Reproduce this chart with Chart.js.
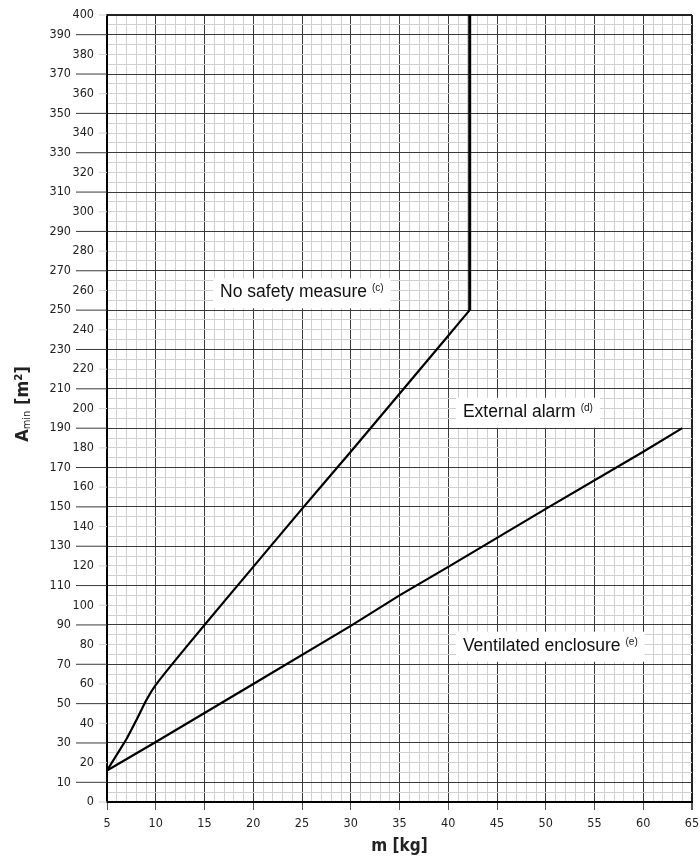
<!DOCTYPE html>
<html>
<head>
<meta charset="utf-8">
<script src="https://cdn.jsdelivr.net/npm/chart.js@4.4.1/dist/chart.umd.min.js"></script>
<style>
  body { margin: 0; background: #fff; }
  canvas { display: block; }
</style>
</head>
<body>
<canvas id="areaChart" width="700" height="858"></canvas>
<script>
// Values
const noSafetyMass = [5, 6, 7, 8, 9, 10, 12, 15, 20, 25, 30, 35, 40, 42.2];
const noSafetyArea = [16, 24, 32, 41.5, 51.5, 59.5, 72, 90, 119.5, 149, 178, 207.5, 237, 250];

const limitMass = [42.2, 42.2];
const limitArea = [250, 400];

const ventMass = [5, 10, 20, 30, 35, 40, 50, 60, 64];
const ventArea = [16, 30.5, 60, 89.5, 105, 119.5, 149, 178, 190];

const xTicks = [5, 10, 15, 20, 25, 30, 35, 40, 45, 50, 55, 60, 65];
const yTicks = [0, 10, 20, 30, 40, 50, 60, 70, 80, 90, 100, 110, 120, 130, 140, 150, 160, 170, 180, 190,
                200, 210, 220, 230, 240, 250, 260, 270, 280, 290, 300, 310, 320, 330, 340, 350, 360, 370, 380, 390, 400];

const regionNames = ['No safety measure', 'External alarm', 'Ventilated enclosure'];
const regionNotes = ['(c)', '(d)', '(e)'];

// where each region name sits, in data units (left edge / baseline)
const notePlaces = [
    { x: 16.6, y: 256.5 },
    { x: 41.5, y: 195.8 },
    { x: 41.5, y: 76.9 }
];

const tickFont = "'DejaVu Sans Condensed', 'DejaVu Sans', sans-serif";
const DARK = '#3a3a3a';
const LIGHT = '#d0d0d0';

function toPoints(xs, ys) {
    return xs.map((x, i) => ({ x: x, y: ys[i] }));
}

// y tick labels are staggered: odd tens further left with a long dark tick
const yLabelPlugin = {
    id: 'yLabels',
    afterDraw(chart) {
        const { ctx, chartArea, scales } = chart;
        const y = scales.y;
        ctx.save();
        ctx.font = '12.5px ' + tickFont;
        ctx.textAlign = 'right';
        ctx.textBaseline = 'middle';
        ctx.fillStyle = '#222';
        yTicks.forEach(v => {
            const py = y.getPixelForValue(v);
            const odd = (v / 10) % 2 === 1;
            ctx.strokeStyle = odd ? DARK : LIGHT;
            ctx.lineWidth = 1;
            ctx.beginPath();
            ctx.moveTo(chartArea.left - (odd ? 31 : 8), py);
            ctx.lineTo(chartArea.left, py);
            ctx.stroke();
            ctx.fillText(String(v), chartArea.left - (odd ? 36 : 13), py);
        });

        // y axis title with subscript
        ctx.translate(22, 404);
        ctx.rotate(-Math.PI / 2);
        ctx.textAlign = 'left';
        ctx.textBaseline = 'alphabetic';
        ctx.fillStyle = '#222';
        const big = "bold 18px 'DejaVu Sans Condensed', 'DejaVu Sans', sans-serif";
        const small = "11px 'DejaVu Sans Condensed', 'DejaVu Sans', sans-serif";
        ctx.font = big;
        const wA = ctx.measureText('A').width;
        ctx.font = small;
        const wMin = ctx.measureText('min').width;
        ctx.font = big;
        const wRest = ctx.measureText(' [m²]').width;
        let cx = -(wA + wMin + wRest) / 2;
        ctx.font = big;
        ctx.fillText('A', cx, 6);
        cx += wA;
        ctx.font = small;
        ctx.fillText('min', cx, 8);
        cx += wMin;
        ctx.font = big;
        ctx.fillText(' [m²]', cx, 6);
        ctx.restore();
    }
};

// region names with white backing boxes
const notePlugin = {
    id: 'regionNotes',
    afterDatasetsDraw(chart) {
        const { ctx, scales } = chart;
        ctx.save();
        regionNames.forEach((name, i) => {
            const px = scales.x.getPixelForValue(notePlaces[i].x);
            const py = scales.y.getPixelForValue(notePlaces[i].y);
            ctx.font = "17.5px 'Liberation Sans', Arial, sans-serif";
            const w = ctx.measureText(name).width;
            ctx.font = "10px 'Liberation Sans', Arial, sans-serif";
            const sw = ctx.measureText(regionNotes[i]).width;
            ctx.fillStyle = '#fff';
            ctx.fillRect(px - 7, py - 19, w + sw + 19, 30);
            ctx.fillStyle = '#111';
            ctx.textBaseline = 'alphabetic';
            ctx.textAlign = 'left';
            ctx.font = "17.5px 'Liberation Sans', Arial, sans-serif";
            ctx.fillText(name, px, py);
            ctx.font = "10px 'Liberation Sans', Arial, sans-serif";
            ctx.fillText(regionNotes[i], px + w + 5, py - 6);
        });
        ctx.restore();
    }
};

const ctx = document.getElementById('areaChart').getContext('2d');

window.areaChart = new Chart(ctx, {
    type: 'scatter',
    data: {
        datasets: [
            {
                label: 'No safety measure',
                data: toPoints(noSafetyMass, noSafetyArea),
                showLine: true,
                borderColor: '#000',
                borderWidth: 2.2,
                pointRadius: 0,
                tension: 0.15
            },
            {
                label: 'Limit',
                data: toPoints(limitMass, limitArea),
                showLine: true,
                borderColor: '#000',
                borderWidth: 3,
                pointRadius: 0
            },
            {
                label: 'Ventilated enclosure',
                data: toPoints(ventMass, ventArea),
                showLine: true,
                borderColor: '#000',
                borderWidth: 2.2,
                pointRadius: 0
            }
        ]
    },
    options: {
        responsive: false,
        animation: false,
        layout: {
            padding: { top: 15, right: 8, left: 0, bottom: 0 }
        },
        plugins: {
            legend: { display: false },
            tooltip: { enabled: false }
        },
        scales: {
            x: {
                type: 'linear',
                min: 5,
                max: 65,
                afterFit: function (scale) {
                    scale.height = 56;
                    scale.paddingLeft = 0;
                    scale.paddingRight = 0;
                },
                ticks: {
                    stepSize: 1,
                    autoSkip: false,
                    maxRotation: 0,
                    padding: 6,
                    color: '#222',
                    font: { family: tickFont, size: 12.5 },
                    callback: v => xTicks.includes(v) ? String(v) : ''
                },
                grid: {
                    color: c => c.tick.value === 65 ? '#222' : (xTicks.includes(c.tick.value) ? DARK : LIGHT),
                    lineWidth: c => c.tick.value === 65 ? 2 : 1,
                    tickColor: c => xTicks.includes(c.tick.value) ? '#555' : 'rgba(0,0,0,0)',
                    tickLength: 8
                },
                border: { color: '#000', width: 2 },
                title: {
                    display: true,
                    text: 'm [kg]',
                    color: '#222',
                    font: { family: "'DejaVu Sans Condensed', 'DejaVu Sans', sans-serif", size: 17, weight: 'bold' },
                    padding: { top: 0, bottom: 1 }
                }
            },
            y: {
                type: 'linear',
                min: 0,
                max: 400,
                afterFit: function (scale) {
                    scale.width = 107;
                    scale.paddingTop = 0;
                    scale.paddingBottom = 0;
                },
                ticks: { stepSize: 5, display: false },
                grid: {
                    color: c => c.tick.value === 400 ? '#222' : ((c.tick.value / 10) % 2 === 1 ? DARK : LIGHT),
                    lineWidth: c => c.tick.value === 400 ? 2 : 1,
                    drawTicks: false
                },
                border: { color: '#000', width: 2 }
            }
        }
    },
    plugins: [notePlugin, yLabelPlugin]
});
</script>
</body>
</html>
